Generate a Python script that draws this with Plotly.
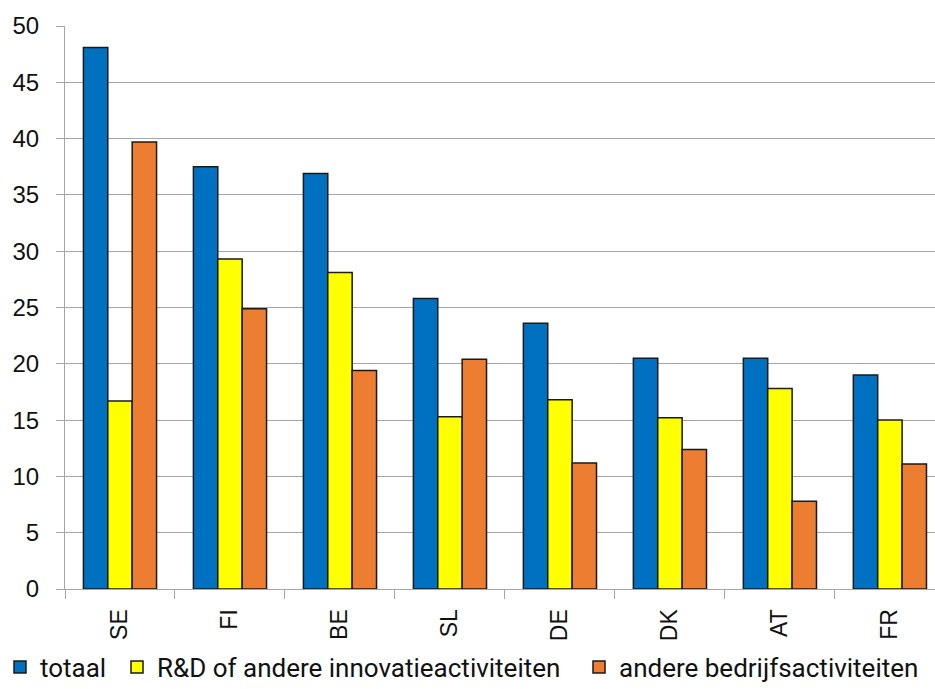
import plotly.graph_objects as go

# Countries and shares per activity type
countries = ["SE", "FI", "BE", "SL", "DE", "DK", "AT", "FR"]
totaal = [48.1, 37.5, 36.9, 25.8, 23.6, 20.5, 20.5, 19.0]
rd_innovatie = [16.7, 29.3, 28.1, 15.3, 16.8, 15.2, 17.8, 15.0]
bedrijf = [39.7, 24.9, 19.4, 20.4, 11.2, 12.4, 7.8, 11.1]

series_names = ["totaal", "R&D of andere innovatieactiviteiten", "andere bedrijfsactiviteiten"]
series_colors = ["#0070C0", "#FFFF00", "#ED7D31"]
y_ticks = [0, 5, 10, 15, 20, 25, 30, 35, 40, 45, 50]

# one legend box per series so the entries sit on a single row at fixed spots
legend_ids = ["legend", "legend2", "legend3"]
legend_x_px = [0, 117, 579]

fig = go.Figure()
for name, vals, col, lid in zip(series_names, [totaal, rd_innovatie, bedrijf], series_colors, legend_ids):
    fig.add_trace(go.Bar(
        x=countries, y=vals, name=name, legend=lid,
        marker=dict(color=col, line=dict(color="#1a1a1a", width=1.5)),
    ))

legend_style = dict(
    orientation="h", xref="container", xanchor="left",
    yref="container", y=1 - 667 / 689, yanchor="middle",
    font=dict(family="Roboto", size=26, color="#111111"),
    bgcolor="rgba(0,0,0,0)",
)
layout_legends = {lid: dict(legend_style, x=px / 935) for lid, px in zip(legend_ids, legend_x_px)}

fig.update_layout(
    width=935, height=689,
    margin=dict(l=65, r=0, t=26, b=100, autoexpand=False),
    plot_bgcolor="white", paper_bgcolor="white",
    barmode="group", bargap=0.335, bargroupgap=0,
    showlegend=True,
    font=dict(family="Liberation Sans", color="#111111"),
    **layout_legends,
)

fig.update_xaxes(
    type="category", range=[-0.5, 7.41],
    tickangle=-90, tickfont=dict(family="Liberation Sans", size=23, color="#111111"),
    ticks="outside", tickson="boundaries", ticklen=9, tickcolor="#a6a6a6",
    showline=True, linecolor="#a6a6a6", linewidth=1,
    showgrid=False, ticklabelstandoff=10,
)
fig.update_yaxes(
    range=[0, 50], tickvals=y_ticks,
    tickfont=dict(family="Liberation Sans", size=24, color="#111111"),
    ticks="outside", ticklen=8, tickcolor="#a6a6a6",
    showline=True, linecolor="#a6a6a6", linewidth=1,
    showgrid=True, gridcolor="#a6a6a6", gridwidth=1,
    zeroline=False, ticklabelstandoff=12,
)

fig.write_html("out.html")
